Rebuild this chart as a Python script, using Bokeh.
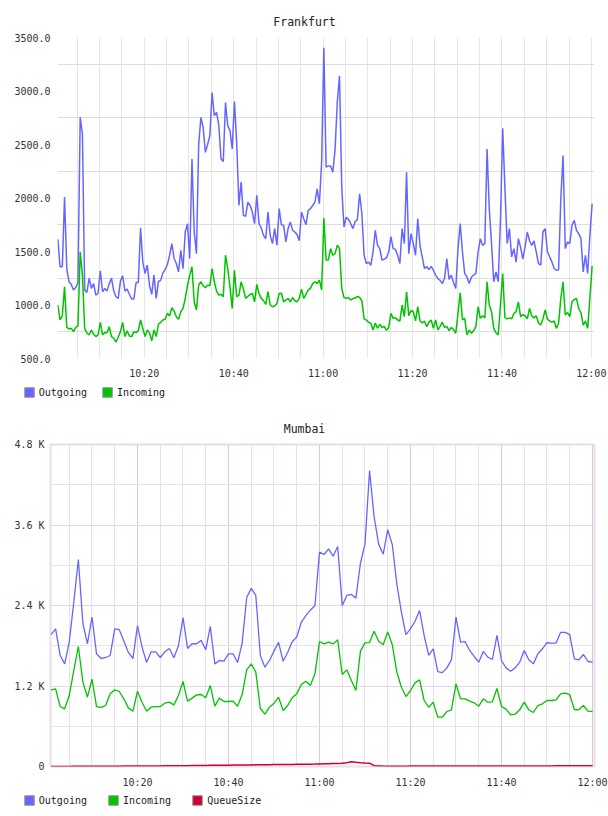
from bokeh.plotting import figure
from bokeh.layouts import column
from bokeh.models import (FixedTicker, NumeralTickFormatter, Legend,
                          LegendItem, Range1d)
from bokeh.embed import file_html
from bokeh.resources import INLINE

FONT = "DejaVu Sans Mono"

# ---- Frankfurt: one sample every 30 s, first sample at 10:00:40 ----
fra_start_min = 40 / 60
fra_step_min = 0.5
fra_outgoing = [
    1614, 1357, 1357, 2010, 1340, 1217, 1192, 1140, 1164, 1210,
    2754, 2600, 1140, 1117, 1250, 1155, 1200, 1093, 1110, 1320,
    1124, 1155, 1130, 1200, 1250, 1130, 1077, 1062, 1223, 1273,
    1130, 1150, 1100, 1056, 1056, 1210, 1210, 1720, 1403, 1295,
    1372, 1186, 1099, 1279, 1062, 1220, 1230, 1300, 1330, 1378,
    1465, 1574, 1434, 1388, 1310, 1512, 1340, 1682, 1760, 1434,
    2365, 1682, 1480, 2500, 2754, 2660, 2427, 2500, 2583, 2986,
    2770, 2800, 2680, 2365, 2340, 2893, 2676, 2630, 2458, 2902,
    2520, 1931, 2150, 1838, 1830, 1962, 1930, 1869, 1760, 2024,
    1760, 1720, 1651, 1620, 1869, 1651, 1574, 1714, 1558, 1900,
    1750, 1744, 1590, 1714, 1776, 1700, 1682, 1660, 1600, 1869,
    1807, 1750, 1884, 1900, 1930, 1962, 2086, 1946, 2334, 3405,
    2288, 2300, 2300, 2241, 2450, 2893, 3141, 2100, 1729, 1820,
    1800, 1760, 1714, 1780, 1800, 2040, 1853, 1465, 1388, 1400,
    1372, 1496, 1698, 1560, 1527, 1420, 1428, 1440, 1496, 1640,
    1527, 1520, 1465, 1388, 1714, 1574, 2241, 1480, 1667, 1574,
    1465, 1807, 1558, 1450, 1341, 1360, 1330, 1360, 1325, 1279,
    1248, 1230, 1200, 1250, 1434, 1240, 1279, 1210, 1155, 1527,
    1760, 1496, 1295, 1264, 1200, 1260, 1280, 1295, 1496, 1620,
    1558, 1574, 2458, 1900, 1574, 1217, 1310, 1217, 1800, 2651,
    2086, 1574, 1714, 1450, 1527, 1400, 1620, 1540, 1428, 1543,
    1682, 1600, 1558, 1600, 1496, 1388, 1372, 1682, 1714, 1500,
    1450, 1403, 1341, 1325, 1330, 1993, 2396, 1527, 1590, 1574,
    1745, 1791, 1698, 1667, 1620, 1310, 1465, 1295, 1651, 1946,
]
fra_incoming = [
    1000, 860, 900, 1170, 790, 776, 782, 751, 790, 804,
    1496, 1279, 782, 738, 720, 767, 726, 705, 720, 838,
    720, 742, 740, 797, 705, 689, 652, 698, 751, 838,
    705, 760, 711, 705, 751, 742, 760, 860, 782, 705,
    767, 742, 664, 767, 705, 820, 838, 860, 866, 922,
    897, 975, 944, 891, 866, 937, 968, 1062, 1186, 1279,
    1357, 1030, 953, 1186, 1217, 1180, 1161, 1186, 1180, 1341,
    1217, 1130, 1093, 1100, 1077, 1465, 1341, 1170, 968, 1325,
    1077, 1093, 1217, 1150, 1062, 1080, 1099, 1108, 1030, 1192,
    1108, 1062, 1040, 1006, 1124, 1000, 984, 990, 1015, 1108,
    1110, 1030, 1046, 1062, 1030, 1070, 1040, 1030, 1062, 1149,
    1062, 1100, 1140, 1155, 1200, 1217, 1200, 1233, 1140, 1813,
    1420, 1420, 1527, 1465, 1480, 1560, 1527, 1155, 1070, 1062,
    1070, 1046, 1060, 1065, 1080, 1070, 1040, 870, 860, 838,
    830, 767, 832, 782, 820, 790, 800, 764, 790, 922,
    875, 880, 860, 850, 1000, 891, 1124, 900, 950, 937,
    853, 984, 853, 832, 850, 798, 840, 860, 782, 860,
    767, 800, 840, 790, 800, 760, 790, 770, 736, 922,
    1115, 860, 875, 720, 767, 736, 760, 798, 984, 875,
    900, 880, 1217, 1000, 937, 782, 740, 720, 1000, 1295,
    882, 870, 880, 870, 920, 937, 1030, 891, 910, 900,
    870, 968, 900, 880, 900, 832, 813, 870, 953, 870,
    850, 840, 850, 782, 830, 1062, 1217, 906, 930, 891,
    1030, 1050, 1062, 968, 930, 813, 850, 782, 1062, 1365,
]

# ---- Mumbai: one sample per minute, first sample at 10:01 ----
mum_start_min = 1.0
mum_step_min = 1.0
mum_outgoing = [
    1967, 2052, 1655, 1530, 1853, 2450, 3085, 2130, 1830, 2226,
    1680, 1610, 1625, 1655, 2052, 2040, 1870, 1700, 1610, 2100,
    1780, 1550, 1710, 1710, 1625, 1710, 1760, 1620, 1800, 2220,
    1760, 1830, 1830, 1880, 1740, 2090, 1530, 1580, 1570, 1680,
    1680, 1550, 1840, 2520, 2655, 2550, 1655, 1480, 1580, 1720,
    1850, 1570, 1700, 1860, 1930, 2150, 2250, 2330, 2400, 3195,
    3160, 3245, 3135, 3280, 2400, 2550, 2565, 2510, 3030, 3315,
    4410, 3725, 3315, 3165, 3530, 3305, 2720, 2300, 1967, 2052,
    2165, 2325, 1953, 1655, 1755, 1415, 1400, 1470, 1590, 2226,
    1853, 1860, 1730, 1640, 1555, 1715, 1630, 1595, 1953, 1580,
    1470, 1420, 1470, 1555, 1730, 1590, 1530, 1680, 1755, 1845,
    1840, 1840, 2000, 2000, 1967, 1605, 1590, 1670, 1565, 1555,
]
mum_incoming = [
    1143, 1158, 894, 860, 1058, 1431, 1789, 1257, 1033, 1302,
    894, 880, 909, 1083, 1143, 1118, 1009, 874, 824, 1123,
    959, 824, 884, 894, 894, 944, 959, 919, 1058, 1267,
    974, 1019, 1068, 1073, 1024, 1207, 899, 1019, 969, 969,
    974, 899, 1073, 1441, 1530, 1406, 865, 780, 884, 944,
    1033, 835, 909, 1024, 1083, 1222, 1272, 1207, 1381, 1863,
    1828, 1853, 1828, 1888, 1371, 1441, 1282, 1133, 1719, 1843,
    1848, 2017, 1868, 1814, 2007, 1814, 1406, 1182, 1043, 1133,
    1247, 1292, 984, 884, 959, 735, 735, 820, 845, 1232,
    1009, 1009, 974, 949, 899, 1009, 959, 964, 1163, 894,
    855, 770, 780, 845, 959, 845, 805, 909, 934, 984,
    984, 994, 1083, 1093, 1073, 850, 845, 909, 825, 820,
]
mum_queue = [
    0, 0, 1, 1, 1, 2, 2, 2, 3, 3,
    3, 4, 4, 4, 5, 5, 6, 6, 6, 7,
    7, 8, 8, 9, 9, 10, 10, 11, 12, 12,
    13, 14, 14, 15, 16, 17, 17, 18, 19, 20,
    21, 21, 22, 23, 24, 25, 25, 26, 27, 28,
    28, 29, 30, 31, 32, 33, 34, 35, 36, 38,
    40, 42, 44, 46, 48, 55, 70, 62, 55, 52,
    50, 12, 8, 6, 5, 5, 5, 5, 5, 6,
    6, 6, 6, 6, 6, 6, 7, 7, 7, 7,
    7, 7, 7, 7, 8, 8, 8, 8, 8, 8,
    8, 8, 8, 9, 9, 9, 9, 9, 9, 9,
    9, 10, 10, 10, 10, 10, 10, 10, 10, 10,
]

# ---- axis ticks (x in minutes after 10:00) ----
time_ticks = [20, 40, 60, 80, 100, 120]
time_labels = ["10:20", "10:40", "11:00", "11:20", "11:40", "12:00"]
five_min_marks = list(range(5, 125, 5))
fra_y_ticks = [500, 1000, 1500, 2000, 2500, 3000, 3500]
fra_y_grid = [750, 1250, 1750, 2250, 2750, 3250]
mum_y_ticks = [0, 1200, 2400, 3600, 4800]
mum_y_labels = ["0", "1.2 K", "2.4 K", "3.6 K", "4.8 K"]
mum_y_minor = [600, 1800, 3000, 4200]

BLUE = "#6666ff"
GREEN = "#00c400"
RED = "#cc0033"
TITLE_SIZE = 11.5  # px, monospace char width is ~0.602 em


def times(start, step, n):
    return [start + step * i for i in range(n)]


def style_axes(p, x_standoff, y_standoff):
    for ax in (p.xaxis[0], p.yaxis[0]):
        ax.axis_line_color = None
        ax.major_tick_line_color = None
        ax.minor_tick_line_color = None
        ax.major_tick_out = 0
        ax.major_tick_in = 0
        ax.minor_tick_out = 0
        ax.major_label_text_font = FONT
        ax.major_label_text_font_size = "10px"
        ax.major_label_text_color = "#333333"
    p.xaxis[0].major_label_standoff = x_standoff
    p.yaxis[0].major_label_standoff = y_standoff
    p.xaxis[0].ticker = FixedTicker(ticks=time_ticks)
    p.xaxis[0].major_label_overrides = dict(zip(time_ticks, time_labels))


def style_title(p, frame_left):
    # centre the title on the whole canvas (304 px) rather than on the frame
    text_w = len(p.title.text) * 0.602 * TITLE_SIZE
    p.title.align = "left"
    p.title.offset = 304 - text_w / 2 - frame_left
    p.title.text_font = FONT
    p.title.text_font_size = f"{TITLE_SIZE}px"
    p.title.text_font_style = "normal"
    p.title.text_color = "#222222"
    p.title.standoff = 17


def legend_strip(entries, spacing):
    """A thin axis-less figure that only holds a horizontal legend."""
    f = figure(width=608, height=16, output_backend="svg", toolbar_location=None,
               x_range=Range1d(0, 1), y_range=Range1d(0, 1),
               x_axis_type=None, y_axis_type=None, min_border=0,
               frame_align=False)
    f.outline_line_color = None
    f.xgrid.visible = False
    f.ygrid.visible = False
    items = []
    for name, color in entries:
        # swatch renderer: a single quad parked outside the visible range
        sw = f.quad(left=[-2], right=[-1], top=[-1], bottom=[-2],
                    fill_color=color, line_color="#9a9a9a", line_width=1)
        items.append(LegendItem(label=name, renderers=[sw]))
    legend = Legend(items=items, orientation="horizontal",
                    location=(22.8, 2), padding=0, margin=0,
                    spacing=spacing, glyph_width=12, glyph_height=12,
                    label_height=12, label_standoff=4,
                    label_text_font=FONT, label_text_font_size="10px",
                    label_text_color="#222222",
                    background_fill_alpha=0, border_line_color=None)
    f.add_layout(legend)
    return f


# ---------------- Frankfurt ----------------
fra_x = times(fra_start_min, fra_step_min, len(fra_outgoing))
p1 = figure(width=608, height=384, output_backend="svg", toolbar_location=None,
            title="Frankfurt", frame_align=False,
            x_range=Range1d(0.59, 120.7), y_range=Range1d(500, 3500),
            min_border_left=57, min_border_right=14,
            min_border_top=37, min_border_bottom=26)
p1.outline_line_color = None
style_axes(p1, 9, 7)
style_title(p1, 57)
p1.yaxis[0].ticker = FixedTicker(ticks=fra_y_ticks)
p1.yaxis[0].formatter = NumeralTickFormatter(format="0.0")
p1.xgrid[0].ticker = FixedTicker(ticks=five_min_marks)
p1.xgrid[0].grid_line_color = "#e6e6e6"
p1.ygrid[0].ticker = FixedTicker(ticks=fra_y_grid)
p1.ygrid[0].grid_line_color = "#dddddd"
p1.line(fra_x, fra_outgoing, line_color=BLUE, line_width=1.5)
p1.line(fra_x, fra_incoming, line_color=GREEN, line_width=1.5)
leg1 = legend_strip([("Outgoing", BLUE), ("Incoming", GREEN)], 14)

# ---------------- Mumbai ----------------
mum_x = times(mum_start_min, mum_step_min, len(mum_outgoing))
p2 = figure(width=608, height=392, output_backend="svg", toolbar_location=None,
            title="Mumbai", frame_align=False,
            x_range=Range1d(0.88, 120.44), y_range=Range1d(0, 4800),
            min_border_left=50, min_border_right=14,
            min_border_top=44, min_border_bottom=26)
p2.outline_line_color = "#eadcea"
p2.outline_line_width = 2
style_axes(p2, 10, 6)
style_title(p2, 50)
p2.yaxis[0].ticker = FixedTicker(ticks=mum_y_ticks)
p2.yaxis[0].major_label_overrides = dict(zip(mum_y_ticks, mum_y_labels))
p2.xgrid[0].ticker = FixedTicker(ticks=time_ticks,
                                 minor_ticks=[m for m in five_min_marks if m not in time_ticks])
p2.xgrid[0].grid_line_color = "#dac8da"
p2.xgrid[0].minor_grid_line_color = "#e8e1e8"
p2.ygrid[0].ticker = FixedTicker(ticks=mum_y_ticks, minor_ticks=mum_y_minor)
p2.ygrid[0].grid_line_color = "#ebd3eb"
p2.ygrid[0].minor_grid_line_color = "#e8e1e8"
p2.line(mum_x, mum_outgoing, line_color=BLUE, line_width=1.3)
p2.line(mum_x, mum_incoming, line_color=GREEN, line_width=1.3)
p2.line(mum_x, mum_queue, line_color=RED, line_width=1.5)
leg2 = legend_strip([("Outgoing", BLUE), ("Incoming", GREEN), ("QueueSize", RED)], 20)

layout = column(p1, leg1, p2, leg2, spacing=0)
open("out.html", "w").write(file_html(layout, INLINE))
